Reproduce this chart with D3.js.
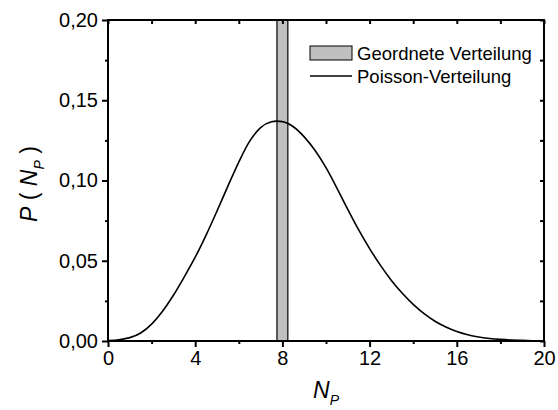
<!DOCTYPE html>
<html>
<head>
<meta charset="utf-8">
<script src="https://cdn.jsdelivr.net/npm/d3@7"></script>
<style>
  body { margin: 0; background: #fff; }
  svg { font-family: "Liberation Sans", Arial, sans-serif; }
  .axis path, .axis line { stroke: #000; }
  .axis text { font-size: 20px; fill: #000; }
</style>
</head>
<body>
<div id="chart"></div>
<script>
// poisson curve
var nValues = [0, 0.5, 1, 1.5, 2, 2.5, 3, 3.5, 4, 4.5, 5, 5.5, 6, 6.5, 7, 7.5, 7.75, 8, 8.5, 9, 9.5, 10,
    10.5, 11, 11.5, 12, 12.5, 13, 13.5, 14, 14.5, 15, 15.5, 16, 16.5, 17, 17.5, 18, 18.5, 19, 19.5, 20];
var poissonValues = [0.0003, 0.0008, 0.0021, 0.0050, 0.0105, 0.0185, 0.0285, 0.0400, 0.0522, 0.0660, 0.0810,
    0.0965, 0.1115, 0.1245, 0.1330, 0.1366, 0.1370, 0.1367, 0.1335, 0.1272, 0.1187, 0.1080,
    0.0953, 0.0820, 0.0692, 0.0576, 0.0471, 0.0377, 0.0297, 0.0228, 0.0170, 0.0123, 0.0087, 0.0059,
    0.0039, 0.0025, 0.0016, 0.0010, 0.0006, 0.0004, 0.0002, 0.0001];

// ordered distribution: single bar at N = 8
var barCenters = [8];
var barWidths = [0.5];
var barValues = [1];

var xMajorTicks = [0, 4, 8, 12, 16, 20];
var xMinorTicks = [2, 6, 10, 14, 18];
var yMajorTicks = [0, 0.05, 0.10, 0.15, 0.20];
var yMinorTicks = [0.025, 0.075, 0.125, 0.175];

var legendLabels = ["Geordnete Verteilung", "Poisson-Verteilung"];

// init size
var width = 558, height = 410;
var margin = {top: 20, right: 14, bottom: 69, left: 108};
var plotWidth = width - margin.left - margin.right;
var plotHeight = height - margin.top - margin.bottom;

var de = d3.formatLocale({decimal: ",", thousands: ".", grouping: [3], currency: ["", " €"]});
var yFormat = de.format(".2f");

// init scales
var x = d3.scaleLinear().domain([0, 20]).range([0, plotWidth]);
var y = d3.scaleLinear().domain([0, 0.20]).range([plotHeight, 0]);

var svg = d3.select("#chart")
    .append("svg")
    .attr("width", width)
    .attr("height", height);

svg.append("defs").append("clipPath")
    .attr("id", "clip")
    .append("rect")
    .attr("width", plotWidth)
    .attr("height", plotHeight);

var plot = svg.append("g")
    .attr("transform", "translate(" + margin.left + "," + margin.top + ")");

// bars
plot.append("g")
    .attr("clip-path", "url(#clip)")
    .selectAll("rect")
    .data(barCenters)
    .enter().append("rect")
    .attr("x", (d, i) => x(d - barWidths[i] / 2))
    .attr("width", (d, i) => x(d + barWidths[i] / 2) - x(d - barWidths[i] / 2))
    .attr("y", (d, i) => y(barValues[i]))
    .attr("height", (d, i) => y(0) - y(barValues[i]))
    .attr("fill", "#c0c0c0")
    .attr("stroke", "#000")
    .attr("stroke-width", 1.2);

// poisson curve
var line = d3.line()
    .x((d, i) => x(nValues[i]))
    .y(d => y(d))
    .curve(d3.curveMonotoneX);

plot.append("path")
    .datum(poissonValues)
    .attr("d", line)
    .attr("fill", "none")
    .attr("stroke", "#000")
    .attr("stroke-width", 1.6);

// axes
function addAxis(axis, tx, ty, labels) {
    var g = plot.append("g")
        .attr("class", "axis")
        .attr("transform", "translate(" + tx + "," + ty + ")")
        .call(axis);
    g.selectAll("line").attr("stroke-width", 2);
    g.select(".domain").remove();
    if (!labels) g.selectAll("text").remove();
    return g;
}

addAxis(d3.axisBottom(x).tickValues(xMajorTicks).tickSize(6).tickPadding(4).tickFormat(d3.format("d")), 0, plotHeight, true);
addAxis(d3.axisBottom(x).tickValues(xMinorTicks).tickSize(3), 0, plotHeight, false);
addAxis(d3.axisLeft(y).tickValues(yMajorTicks).tickSize(6).tickPadding(4).tickFormat(yFormat), 0, 0, true);
addAxis(d3.axisLeft(y).tickValues(yMinorTicks).tickSize(3), 0, 0, false);
addAxis(d3.axisTop(x).tickValues(xMinorTicks.concat(xMajorTicks)).tickSize(-4), 0, 0, false);
addAxis(d3.axisRight(y).tickValues(yMinorTicks.concat(yMajorTicks)).tickSize(-4), plotWidth, 0, false);

// frame
plot.append("rect")
    .attr("width", plotWidth)
    .attr("height", plotHeight)
    .attr("fill", "none")
    .attr("stroke", "#000")
    .attr("stroke-width", 2);

// axis titles
var xTitle = svg.append("text")
    .attr("x", 313)
    .attr("y", 398)
    .attr("font-size", 23)
    .attr("font-style", "italic");
xTitle.append("tspan").text("N");
xTitle.append("tspan").attr("font-size", 14).attr("dy", 7).text("P");

var yTitle = svg.append("text")
    .attr("transform", "translate(37,222) rotate(-90)")
    .attr("font-size", 23);
yTitle.append("tspan").attr("font-style", "italic").text("P");
yTitle.append("tspan").text(" ( ");
yTitle.append("tspan").attr("font-style", "italic").text("N");
yTitle.append("tspan").attr("font-style", "italic").attr("font-size", 14).attr("dy", 7).text("P");
yTitle.append("tspan").attr("dy", -7).text(" )");

// legend
var legend = svg.append("g").attr("transform", "translate(310,46)");
legend.append("rect")
    .attr("width", 42)
    .attr("height", 14)
    .attr("fill", "#c0c0c0")
    .attr("stroke", "#000")
    .attr("stroke-width", 1);
legend.append("line")
    .attr("x1", 0).attr("x2", 42)
    .attr("y1", 30).attr("y2", 30)
    .attr("stroke", "#000")
    .attr("stroke-width", 1.6);
legend.selectAll("text")
    .data(legendLabels)
    .enter().append("text")
    .attr("x", 47)
    .attr("y", (d, i) => 13.5 + i * 23)
    .attr("font-size", 18.5)
    .text(d => d);
</script>
</body>
</html>
